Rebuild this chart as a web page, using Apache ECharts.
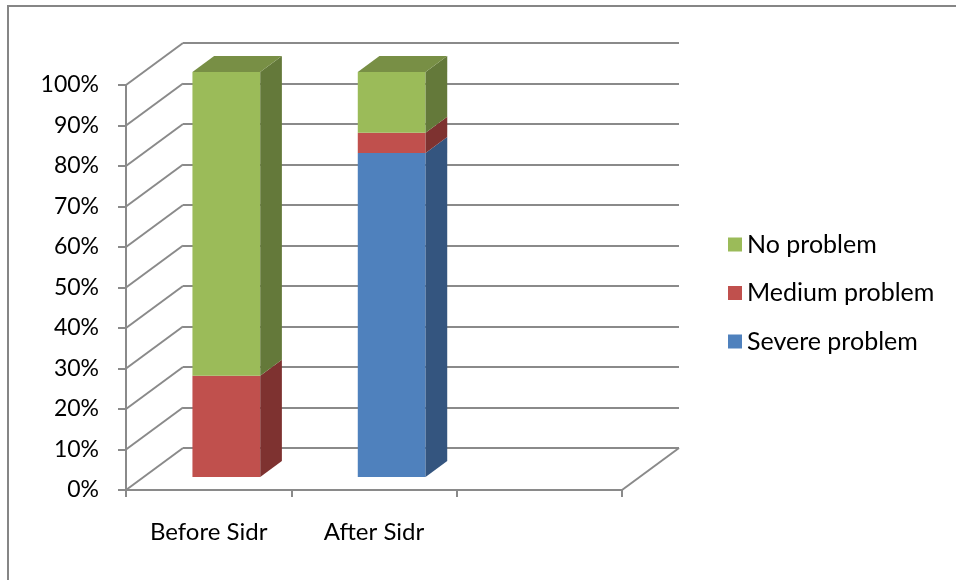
<!DOCTYPE html>
<html>
<head>
<meta charset="utf-8">
<title>Before and after Sidr</title>
<script src="https://cdn.jsdelivr.net/npm/echarts@6/dist/echarts.min.js"></script>
<style>
  html, body { margin: 0; padding: 0; background: #fff; }
  #chart { width: 956px; height: 580px; }
</style>
</head>
<body>
<div id="chart"></div>
<script>
// Share of respondents per problem level, stacked to 100%
const categories = ['Before Sidr', 'After Sidr', ''];
const severeProblem = [0, 80, 0];
const mediumProblem = [25, 5, 0];
const noProblem = [75, 15, 0];
const yTicks = [0, 10, 20, 30, 40, 50, 60, 70, 80, 90, 100];
const seriesNames = ['Severe problem', 'Medium problem', 'No problem'];

// Oblique projection used for the 3-D look (pixels per full depth)
const DEPTH_X = 57;
const DEPTH_Y = -42;
const BAR_FRONT = 0.31;   // depth where the bar front face sits
const BAR_DEPTH = 0.38;   // bar thickness as a share of the depth
const BAR_WIDTH = 0.41;   // share of the category band
const LINE = '#8a8a8a';
const FONT = 'Lato';

// Front plane of the plot
const FRONT = { left: 126, top: 85, width: 496, height: 405 };

const palette = {
  'Severe problem': { front: '#4F81BD', side: '#34557F', top: '#3F6797' },
  'Medium problem': { front: '#C0504D', side: '#7E3230', top: '#9A403E' },
  'No problem':     { front: '#9BBB59', side: '#64793A', top: '#788F45' }
};

// Build stacked segments [category, from, to, isTop]
const stacks = [severeProblem, mediumProblem, noProblem];
const segData = stacks.map(() => []);
categories.forEach((c, i) => {
  let base = 0;
  const total = stacks.reduce((s, arr) => s + arr[i], 0);
  stacks.forEach((arr, k) => {
    const v = arr[i];
    if (v > 0) {
      segData[k].push([i, base, base + v, Math.abs(base + v - total) < 1e-9 ? 1 : 0]);
    }
    base += v;
  });
});

function renderBox(name) {
  const col = palette[name];
  return function (params, api) {
    const cat = api.value(0), lo = api.value(1), hi = api.value(2), isTop = api.value(3);
    const pLo = api.coord([cat, lo]);
    const pHi = api.coord([cat, hi]);
    const band = api.size([1, 0])[0];
    const half = band * BAR_WIDTH / 2;
    const ox = DEPTH_X * BAR_FRONT, oy = DEPTH_Y * BAR_FRONT;
    const bx = DEPTH_X * BAR_DEPTH, by = DEPTH_Y * BAR_DEPTH;
    const x0 = pLo[0] - half + ox, x1 = pLo[0] + half + ox;
    const yb = pLo[1] + oy, yt = pHi[1] + oy;
    const children = [
      { type: 'rect', shape: { x: x0, y: yt, width: x1 - x0, height: yb - yt },
        style: { fill: col.front } },
      { type: 'polygon', shape: { points: [[x1, yb], [x1 + bx, yb + by], [x1 + bx, yt + by], [x1, yt]] },
        style: { fill: col.side } }
    ];
    if (isTop) {
      children.push({ type: 'polygon',
        shape: { points: [[x0, yt], [x1, yt], [x1 + bx, yt + by], [x0 + bx, yt + by]] },
        style: { fill: col.top } });
    }
    return { type: 'group', children: children };
  };
}

// Side wall diagonals and the right floor edge
function renderWalls(params, api) {
  const cs = params.coordSys;
  const children = yTicks.map(v => {
    const y = api.coord([0, v])[1];
    return { type: 'line', shape: { x1: cs.x, y1: y, x2: cs.x + DEPTH_X, y2: y + DEPTH_Y },
      style: { stroke: LINE, lineWidth: 2 } };
  });
  const y0 = api.coord([0, yTicks[0]])[1];
  children.push({ type: 'line',
    shape: { x1: cs.x + cs.width, y1: y0, x2: cs.x + cs.width + DEPTH_X, y2: y0 + DEPTH_Y },
    style: { stroke: LINE, lineWidth: 2 } });
  return { type: 'group', children: children };
}

const chart = echarts.init(document.getElementById('chart'), null, { renderer: 'canvas' });

chart.setOption({
  animation: false,
  backgroundColor: '#fff',
  textStyle: { fontFamily: FONT },
  graphic: [{
    type: 'rect', z: 100,
    shape: { x: 8, y: 6, width: 1000, height: 700 },
    style: { fill: null, stroke: '#868686', lineWidth: 2 }
  }],
  grid: [
    { left: FRONT.left, top: FRONT.top, width: FRONT.width, height: FRONT.height },
    { left: FRONT.left + DEPTH_X, top: FRONT.top + DEPTH_Y, width: FRONT.width, height: FRONT.height }
  ],
  xAxis: [
    {
      type: 'category', gridIndex: 0, data: categories, boundaryGap: true,
      axisLine: { lineStyle: { color: LINE, width: 2 } },
      axisTick: { show: true, length: 7, lineStyle: { color: LINE, width: 2 } },
      axisLabel: { color: '#000', fontSize: 24, fontFamily: FONT, margin: 30 },
      splitLine: { show: false }
    },
    { type: 'category', gridIndex: 1, data: categories, show: false }
  ],
  yAxis: [
    {
      type: 'value', gridIndex: 0, min: 0, max: 100, interval: 10,
      axisLine: { show: true, lineStyle: { color: LINE, width: 2 } },
      axisTick: { show: true, length: 8, lineStyle: { color: LINE, width: 2 } },
      axisLabel: { color: '#000', fontSize: 23, fontFamily: FONT, margin: 27, formatter: '{value}%' },
      splitLine: { show: false }
    },
    {
      type: 'value', gridIndex: 1, min: 0, max: 100, interval: 10,
      axisLine: { show: false }, axisTick: { show: false }, axisLabel: { show: false },
      splitLine: { show: true, lineStyle: { color: LINE, width: 2 } }
    }
  ],
  legend: {
    orient: 'vertical', left: 728, top: 232, padding: 0,
    itemWidth: 14, itemHeight: 14, itemGap: 23.5,
    icon: 'rect',
    data: ['No problem', 'Medium problem', 'Severe problem'],
    textStyle: { color: '#000', fontSize: 25, fontFamily: FONT, lineHeight: 25 }
  },
  series: [
    {
      type: 'custom', name: 'walls', xAxisIndex: 0, yAxisIndex: 0, z: 1,
      data: [[0]], renderItem: renderWalls, silent: true
    }
  ].concat(seriesNames.map((name, k) => ({
    type: 'custom', name: name, xAxisIndex: 0, yAxisIndex: 0, z: 3 + k,
    itemStyle: { color: palette[name].front },
    data: segData[k],
    renderItem: renderBox(name)
  })))
});
</script>
</body>
</html>
